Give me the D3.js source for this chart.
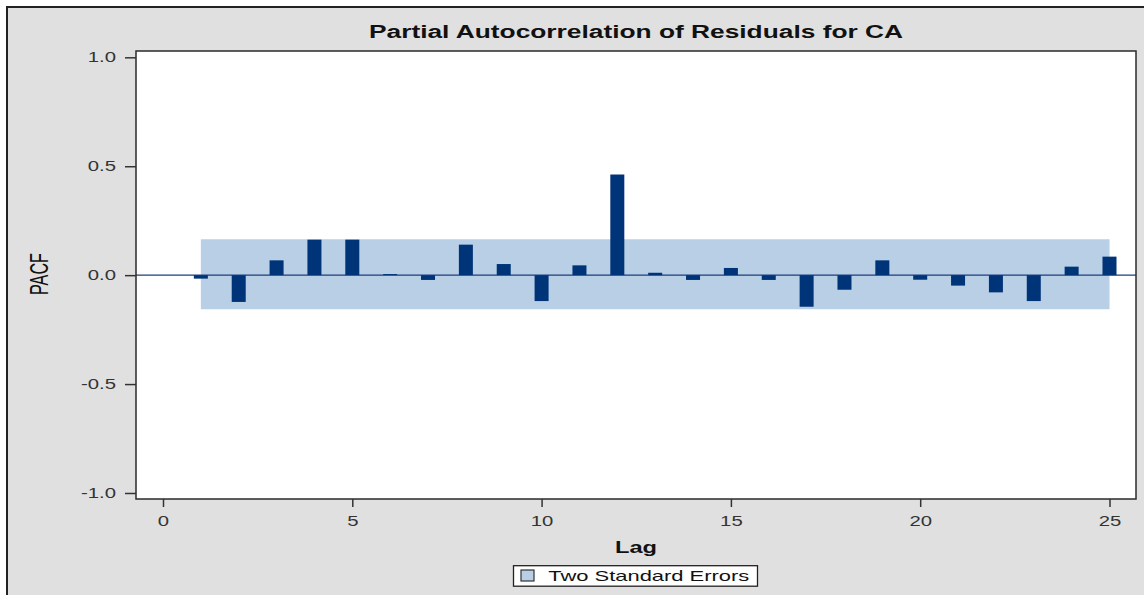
<!DOCTYPE html>
<html>
<head>
<meta charset="utf-8">
<script src="https://cdn.jsdelivr.net/npm/d3@7/dist/d3.min.js"></script>
<style>
  body { margin: 0; background: #ffffff; }
  svg { display: block; }
  text { font-family: "Liberation Sans", Arial, sans-serif; }
</style>
</head>
<body>
<svg id="chart" width="1144" height="595"></svg>
<script>
// ---- Data ----
const lags = [1,2,3,4,5,6,7,8,9,10,11,12,13,14,15,16,17,18,19,20,21,22,23,24,25];
const pacf = [-0.016,-0.123,0.068,0.163,0.163,0.005,-0.022,0.140,0.051,-0.119,0.045,0.462,
              0.011,-0.022,0.033,-0.022,-0.145,-0.067,0.068,-0.021,-0.048,-0.079,-0.119,0.039,0.085];
const bandUpper = [0.165];   // two standard errors, upper
const bandLower = [-0.156];  // two standard errors, lower
const xTicks = [0,5,10,15,20,25];
const yTicks = [-1.0,-0.5,0.0,0.5,1.0];
const titleText = "Partial Autocorrelation of Residuals for CA";
const xLabel = "Lag";
const yLabel = "PACF";
const legendLabel = "Two Standard Errors";

// ---- Layout ----
const svg = d3.select("#chart");
const W = 1144, H = 595;
const plot = {left: 136, top: 51, right: 1136, bottom: 499};
const barColor = "#003478";
const bandColor = "#b9cfe6";
const stretch = 1.45;

const x = d3.scaleLinear().domain([-0.713, 25.7]).range([plot.left, plot.right]);
const y = d3.scaleLinear().domain([-1.0276, 1.029]).range([plot.bottom, plot.top]);

// background + outer border
svg.append("rect").attr("x", 7).attr("y", 7).attr("width", W - 7).attr("height", H - 7).attr("fill", "#e0e0e0");
svg.append("path").attr("d", `M7,${H} L7,7 L${W},7`).attr("fill", "none").attr("stroke", "#222").attr("stroke-width", 2);

// plot area
svg.append("rect").attr("x", plot.left).attr("y", plot.top)
  .attr("width", plot.right - plot.left).attr("height", plot.bottom - plot.top)
  .attr("fill", "#ffffff");

// band
const bandData = lags.map(l => ({lag: l, lo: bandLower[0], hi: bandUpper[0]}));
const area = d3.area().x(d => x(d.lag)).y0(d => y(d.lo)).y1(d => y(d.hi));
svg.append("path").datum(bandData).attr("d", area).attr("fill", bandColor);

// zero line
svg.append("line").attr("x1", plot.left).attr("x2", plot.right)
  .attr("y1", y(0)).attr("y2", y(0)).attr("stroke", "#1d3f7a").attr("stroke-width", 1.3);

// bars
const halfW = 0.185;
svg.append("g").selectAll("rect").data(lags).join("rect")
  .attr("x", (d) => x(d - halfW))
  .attr("width", (d) => x(d + halfW) - x(d - halfW))
  .attr("y", (d, i) => y(Math.max(0, pacf[i])))
  .attr("height", (d, i) => Math.abs(y(pacf[i]) - y(0)))
  .attr("fill", barColor);

// frame
svg.append("rect").attr("x", plot.left).attr("y", plot.top)
  .attr("width", plot.right - plot.left).attr("height", plot.bottom - plot.top)
  .attr("fill", "none").attr("stroke", "#2a2a2a").attr("stroke-width", 1.5);

function stretchText(sel, f) {
  sel.each(function() {
    const len = this.getComputedTextLength();
    d3.select(this).attr("textLength", len * f).attr("lengthAdjust", "spacingAndGlyphs");
  });
}

// x axis
const gx = svg.append("g").attr("transform", `translate(0,${plot.bottom})`)
  .call(d3.axisBottom(x).tickValues(xTicks).tickSize(8).tickSizeOuter(0).tickFormat(d => String(d)));
gx.select(".domain").remove();
gx.selectAll(".tick line").attr("stroke", "#333").attr("stroke-width", 1.5);
gx.selectAll(".tick text").attr("y", 27).attr("dy", null)
  .attr("font-size", 14).attr("fill", "#333").style("font-family", "Liberation Sans, Arial, sans-serif");
stretchText(gx.selectAll(".tick text"), stretch);

// y axis
const gy = svg.append("g").attr("transform", `translate(${plot.left},0)`)
  .call(d3.axisLeft(y).tickValues(yTicks).tickSize(11).tickSizeOuter(0).tickFormat(d => d.toFixed(1)));
gy.select(".domain").remove();
gy.selectAll(".tick line").attr("stroke", "#333").attr("stroke-width", 1.5);
gy.selectAll(".tick text").attr("x", -20)
  .attr("font-size", 14).attr("fill", "#333").style("font-family", "Liberation Sans, Arial, sans-serif");
stretchText(gy.selectAll(".tick text"), stretch);

// title
svg.append("text").attr("x", 636).attr("y", 38.3).attr("text-anchor", "middle")
  .attr("font-size", 18).attr("font-weight", "bold").attr("fill", "#111")
  .attr("textLength", 534).attr("lengthAdjust", "spacingAndGlyphs").text(titleText);

// x label
svg.append("text").attr("x", 636).attr("y", 552.7).attr("text-anchor", "middle")
  .attr("font-size", 16).attr("font-weight", "bold").attr("fill", "#111")
  .attr("textLength", 42).attr("lengthAdjust", "spacingAndGlyphs").text(xLabel);

// y label
svg.append("text").attr("transform", `translate(48.3,274) rotate(-90)`).attr("text-anchor", "middle")
  .attr("font-size", 25).attr("fill", "#111")
  .attr("textLength", 42).attr("lengthAdjust", "spacingAndGlyphs").text(yLabel);

// legend
const lg = svg.append("g");
lg.append("rect").attr("x", 513.5).attr("y", 565.7).attr("width", 244).attr("height", 20.5)
  .attr("fill", "#ffffff").attr("stroke", "#222").attr("stroke-width", 1.3);
lg.append("rect").attr("x", 521).attr("y", 570).attr("width", 13).attr("height", 11)
  .attr("fill", bandColor).attr("stroke", "#333").attr("stroke-width", 1.2);
lg.append("text").attr("x", 548.3).attr("y", 580.7).attr("font-size", 15).attr("fill", "#111")
  .attr("textLength", 201).attr("lengthAdjust", "spacingAndGlyphs").text(legendLabel);
</script>
</body>
</html>
